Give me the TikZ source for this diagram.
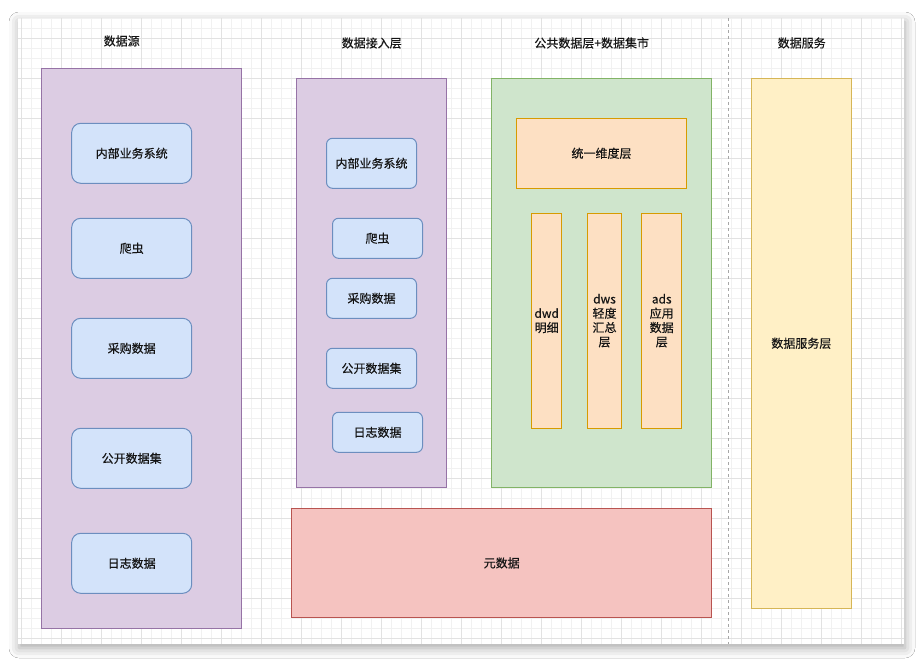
\documentclass[tikz,border=0pt]{standalone}
\usepackage{fontspec}
\setmainfont{Noto Sans CJK SC}[FakeBold=0.35]
\usetikzlibrary{shadows.blur}

% layer fills and strokes
\definecolor{purfill}{HTML}{DCCCE3}
\definecolor{purline}{HTML}{9673A6}
\definecolor{bluefill}{HTML}{D3E3FA}
\definecolor{blueline}{HTML}{6C8EBF}
\definecolor{grnfill}{HTML}{CFE5CC}
\definecolor{grnline}{HTML}{82B366}
\definecolor{orgfill}{HTML}{FDE0C3}
\definecolor{orgline}{HTML}{D79B00}
\definecolor{redfill}{HTML}{F5C3C0}
\definecolor{redline}{HTML}{B85450}
\definecolor{ylwfill}{HTML}{FFF0C6}
\definecolor{ylwline}{HTML}{D6B656}
\definecolor{gridminor}{HTML}{F1F1F1}
\definecolor{gridmajor}{HTML}{E2E2E2}
\definecolor{txt}{HTML}{141414}

\tikzset{
  lbl/.style={text=txt, font=\fontsize{12}{14.3}\selectfont, align=center, inner sep=0pt},
  layerbox/.style={draw=#1line, fill=#1fill, line width=1pt, inner sep=0pt},
  srcbox/.style={draw=blueline, fill=bluefill, line width=1pt, rounded corners=9pt,
                 inner sep=0pt, lbl},
  smallsrc/.style={srcbox, rounded corners=6pt},
  tierbox/.style={draw=orgline, fill=orgfill, line width=1pt, inner sep=0pt, lbl},
}

\begin{document}
\begin{tikzpicture}[x=1pt, y=-1pt]
\useasboundingbox (0,0) rectangle (923,663);
\fill[white] (0,0) rectangle (923,663);

% drawing sheet with its soft shadow
\fill[white, blur shadow={shadow xshift=1pt, shadow yshift=-4pt,
      shadow blur radius=10pt, shadow opacity=35}] (18,18) rectangle (904,644);

% background grid
\begin{scope}
  \clip (18,18) rectangle (904,644);
  \foreach \i in {0,...,88} {
    \draw[gridminor, line width=0.8pt] ({21.7+10*\i},18) -- ({21.7+10*\i},644);
  }
  \foreach \j in {0,...,62} {
    \draw[gridminor, line width=0.8pt] (18,{18.3+10*\j}) -- (904,{18.3+10*\j});
  }
  \foreach \i in {0,...,22} {
    \draw[gridmajor, line width=0.8pt] ({21.7+40*\i},18) -- ({21.7+40*\i},644);
  }
  \foreach \j in {0,...,15} {
    \draw[gridmajor, line width=0.8pt] (18,{38.3+40*\j}) -- (904,{38.3+40*\j});
  }
\end{scope}

% separator before the service column
\coordinate (sepTop) at (728.3,18);
\coordinate (sepBot) at (728.3,644);
\draw[gray!70, line width=0.8pt, dash pattern=on 3pt off 3pt] (sepTop) -- (sepBot);

% column titles
\node[lbl] (tSrc) at (121.7,41) {数据源};
\node[lbl] (tIn)  at (371.7,43) {数据接入层};
\node[lbl] (tPub) at (591.7,43) {公共数据层+数据集市};
\node[lbl] (tSvc) at (801.7,43) {数据服务};

% data sources
\draw[layerbox=pur] (41.7,68.3) rectangle (241.7,628.3);
\node[srcbox, minimum width=120pt, minimum height=60pt] (s1) at (131.7,153.3) {内部业务系统};
\node[srcbox, minimum width=120pt, minimum height=60pt] (s2) at (131.7,248.3) {爬虫};
\node[srcbox, minimum width=120pt, minimum height=60pt] (s3) at (131.7,348.3) {采购数据};
\node[srcbox, minimum width=120pt, minimum height=60pt] (s4) at (131.7,458.3) {公开数据集};
\node[srcbox, minimum width=120pt, minimum height=60pt] (s5) at (131.7,563.3) {日志数据};

% ingestion layer
\draw[layerbox=pur] (296.3,78.3) rectangle (446.3,487.7);
\node[smallsrc, minimum width=90pt, minimum height=50pt] (a1) at (371.5,163.3) {内部业务系统};
\node[smallsrc, minimum width=90pt, minimum height=40pt] (a2) at (377.5,238.3) {爬虫};
\node[smallsrc, minimum width=90pt, minimum height=40pt] (a3) at (371.5,298.3) {采购数据};
\node[smallsrc, minimum width=90pt, minimum height=40pt] (a4) at (371.5,368.3) {公开数据集};
\node[smallsrc, minimum width=90pt, minimum height=40pt] (a5) at (377.5,432.3) {日志数据};

% common data layer and marts
\draw[layerbox=grn] (491.7,78.3) rectangle (711.7,487.7);
\node[tierbox, minimum width=170pt, minimum height=70pt] (dim) at (601.5,153.3) {统一维度层};
\node[tierbox, minimum width=30pt, minimum height=215pt] (dwd) at (546.7,320.7) {dwd\\明细};
\node[tierbox, minimum width=34pt, minimum height=215pt] (dws) at (604.5,320.7) {dws\\轻度\\汇总\\层};
\node[tierbox, minimum width=40pt, minimum height=215pt] (ads) at (661.7,320.7) {ads\\应用\\数据\\层};

% metadata
\node[layerbox=red, lbl, minimum width=420pt, minimum height=109.4pt] (meta) at (501.7,563) {元数据};

% data service
\node[layerbox=ylw, lbl, minimum width=100.7pt, minimum height=530pt] (svc) at (801.35,343.3) {数据服务层};
\end{tikzpicture}
\end{document}
